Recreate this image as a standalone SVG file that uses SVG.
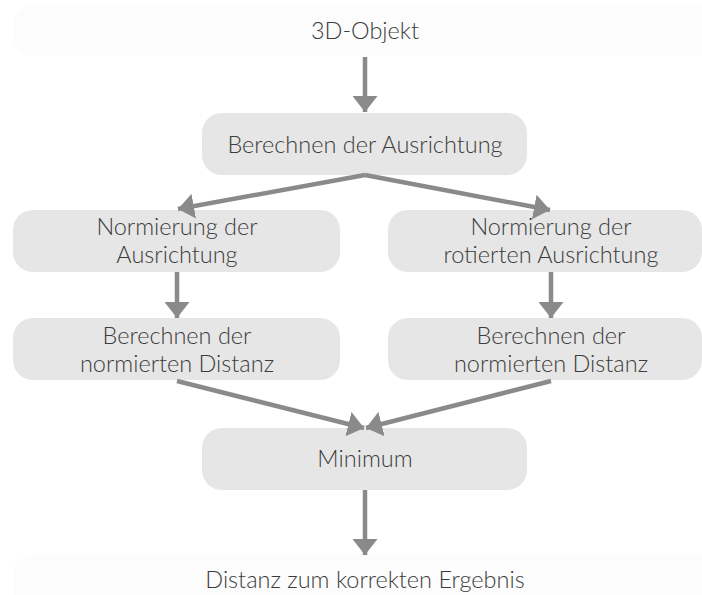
<svg xmlns="http://www.w3.org/2000/svg" width="702" height="595" viewBox="0 0 702 595">
  <defs>
    <style>
      .node { fill: #e6e6e6; }
      .io { fill: #fcfcfc; }
      .label { font-family: Lato, "Liberation Sans", sans-serif; font-size: 23.5px; font-weight: 300; fill: #3c3c3c; text-anchor: middle; }
      .edge { stroke: #8a8a8a; stroke-width: 4.5; fill: none; }
    </style>
    <marker id="arrow" viewBox="0 0 16 25" refX="16" refY="12.5" markerWidth="16" markerHeight="25" markerUnits="userSpaceOnUse" orient="auto">
      <path d="M0,0 L16,12.5 L0,25 Z" fill="#8a8a8a"/>
    </marker>
  </defs>
  <rect width="702" height="595" fill="#ffffff"/>

  <g id="input">
    <rect class="io" x="13" y="5" width="720" height="51" rx="20"/>
    <text class="label" x="365" y="39">3D-Objekt</text>
  </g>

  <g id="orientation">
    <rect class="node" x="202" y="113" width="325" height="62" rx="20"/>
    <text class="label" x="365" y="153">Berechnen der Ausrichtung</text>
  </g>

  <g id="norm-left">
    <rect class="node" x="13" y="210" width="327" height="62" rx="20"/>
    <text class="label" x="177" y="235">Normierung der</text>
    <text class="label" x="177" y="263">Ausrichtung</text>
  </g>

  <g id="norm-right">
    <rect class="node" x="388" y="210" width="314" height="62" rx="20"/>
    <text class="label" x="551" y="235">Normierung der</text>
    <text class="label" x="551" y="263">rotierten Ausrichtung</text>
  </g>

  <g id="dist-left">
    <rect class="node" x="13" y="318" width="327" height="62" rx="20"/>
    <text class="label" x="177" y="344">Berechnen der</text>
    <text class="label" x="177" y="372">normierten Distanz</text>
  </g>

  <g id="dist-right">
    <rect class="node" x="388" y="318" width="314" height="62" rx="20"/>
    <text class="label" x="551" y="344">Berechnen der</text>
    <text class="label" x="551" y="372">normierten Distanz</text>
  </g>

  <g id="minimum">
    <rect class="node" x="202" y="428" width="325" height="62" rx="20"/>
    <text class="label" x="365" y="467">Minimum</text>
  </g>

  <g id="output">
    <rect class="io" x="13" y="555" width="720" height="60" rx="20"/>
    <text class="label" x="365" y="588">Distanz zum korrekten Ergebnis</text>
  </g>

  <g id="connectors">
    <line class="edge" x1="365" y1="57" x2="365" y2="112" marker-end="url(#arrow)"/>
    <line class="edge" x1="365" y1="175" x2="178" y2="209" marker-end="url(#arrow)"/>
    <line class="edge" x1="365" y1="175" x2="550" y2="210" marker-end="url(#arrow)"/>
    <line class="edge" x1="177" y1="272" x2="177" y2="318" marker-end="url(#arrow)"/>
    <line class="edge" x1="551" y1="272" x2="551" y2="318" marker-end="url(#arrow)"/>
    <line class="edge" x1="177" y1="381" x2="364" y2="428" marker-end="url(#arrow)"/>
    <line class="edge" x1="551" y1="381" x2="366" y2="428" marker-end="url(#arrow)"/>
    <line class="edge" x1="365" y1="490" x2="365" y2="555" marker-end="url(#arrow)"/>
  </g>
</svg>
